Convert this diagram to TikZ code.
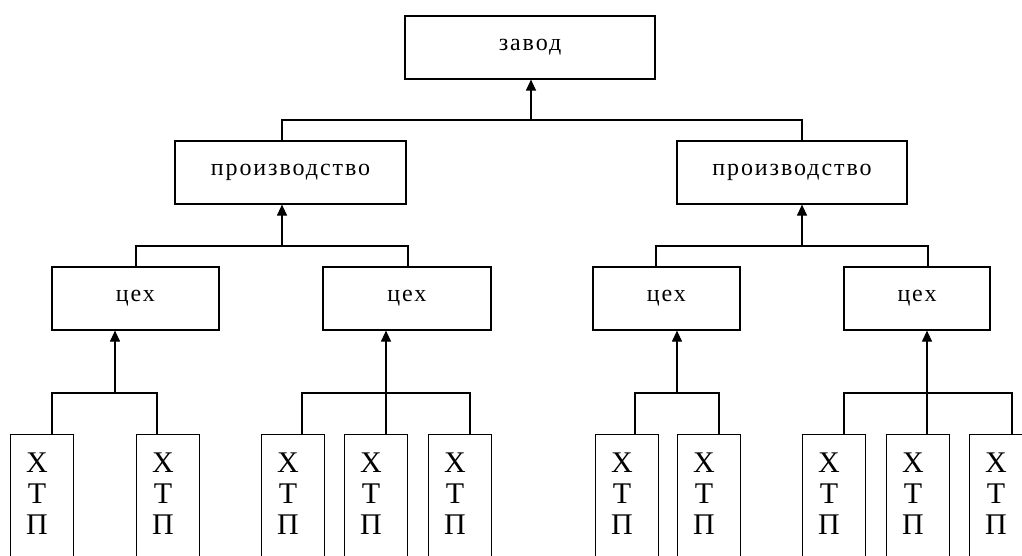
\documentclass[tikz,border=0pt]{standalone}
\usepackage{fontspec}
\setmainfont{Liberation Serif}
\newfontfamily\boxfont[LetterSpace=8]{Liberation Serif}
\usetikzlibrary{arrows.meta,calc}
\begin{document}
\begin{tikzpicture}[x=1pt,y=-1pt,
  line width=1.2pt,
  box/.style={draw,rectangle,inner sep=0pt,minimum height=63pt,font=\boxfont\fontsize{24}{26}\selectfont},
  leaf/.style={draw,rectangle,inner sep=0pt,minimum width=63pt,minimum height=160pt,anchor=north west},
  leaftext/.style={inner sep=0pt,align=center,anchor=north,font=\fontsize{30}{31}\selectfont},
  arr/.style={-{Triangle[width=10pt,length=11pt]}}]
\useasboundingbox (0,0) rectangle (1022,556);
\clip (0,0) rectangle (1022,556);

% plant
\node[box,minimum width=250pt] (zavod) at (530,47.5) {завод};
% productions
\node[box,minimum width=231pt] (p1) at (290.5,172.5) {производство};
\node[box,minimum width=230pt] (p2) at (792,172.5) {производство};
% workshops
\node[box,minimum width=167pt] (c1) at (135.5,298.5) {цех};
\node[box,minimum width=168pt] (c2) at (407,298.5) {цех};
\node[box,minimum width=147pt] (c3) at (666.5,298.5) {цех};
\node[box,minimum width=146pt] (c4) at (917,298.5) {цех};

% leaf boxes
\foreach \n/\x in {1/10,2/136,3/261,4/344,5/428,6/595,7/677,8/802,9/886,10/969}{
  \node[leaf] (l\n) at (\x,434) {};
  \node[leaftext] (t\n) at ($(l\n.north west)+(27,18)$) {Х\\Т\\П};
}

% junction points
\coordinate (j0) at (531,120);
\coordinate (j1) at (282,246);
\coordinate (j2) at (802,246);
\coordinate (k1) at (115,393);
\coordinate (k2) at (386,393);
\coordinate (k3) at (677,393);
\coordinate (k4) at (927,393);

% plant level
\draw[arr] (j0) -- (j0 |- zavod.south);
\draw (p1.north -| 282,0) |- (j0 -| 282,0) -- (j0 -| 802,0) -- (p2.north -| 802,0);

% production level
\draw[arr] (j1) -- (j1 |- p1.south);
\draw (c1.north -| 136,0) -- (j1 -| 136,0) -- (j1 -| 408,0) -- (c2.north -| 408,0);
\draw[arr] (j2) -- (j2 |- p2.south);
\draw (c3.north -| 656,0) -- (j2 -| 656,0) -- (j2 -| 928,0) -- (c4.north -| 928,0);

% workshop level
\draw[arr] (k1) -- (k1 |- c1.south);
\draw (l1.north -| 52,0) -- (k1 -| 52,0) -- (k1 -| 157,0) -- (l2.north -| 157,0);

\draw[arr] (k2 |- l4.north) -- (k2 |- c2.south);
\draw (l3.north -| 302,0) -- (k2 -| 302,0) -- (k2 -| 470,0) -- (l5.north -| 470,0);

\draw[arr] (k3) -- (k3 |- c3.south);
\draw (l6.north -| 635,0) -- (k3 -| 635,0) -- (k3 -| 719,0) -- (l7.north -| 719,0);

\draw[arr] (k4 |- l9.north) -- (k4 |- c4.south);
\draw (l8.north -| 844,0) -- (k4 -| 844,0) -- (k4 -| 1012,0) -- (l10.north -| 1012,0);
\end{tikzpicture}
\end{document}
